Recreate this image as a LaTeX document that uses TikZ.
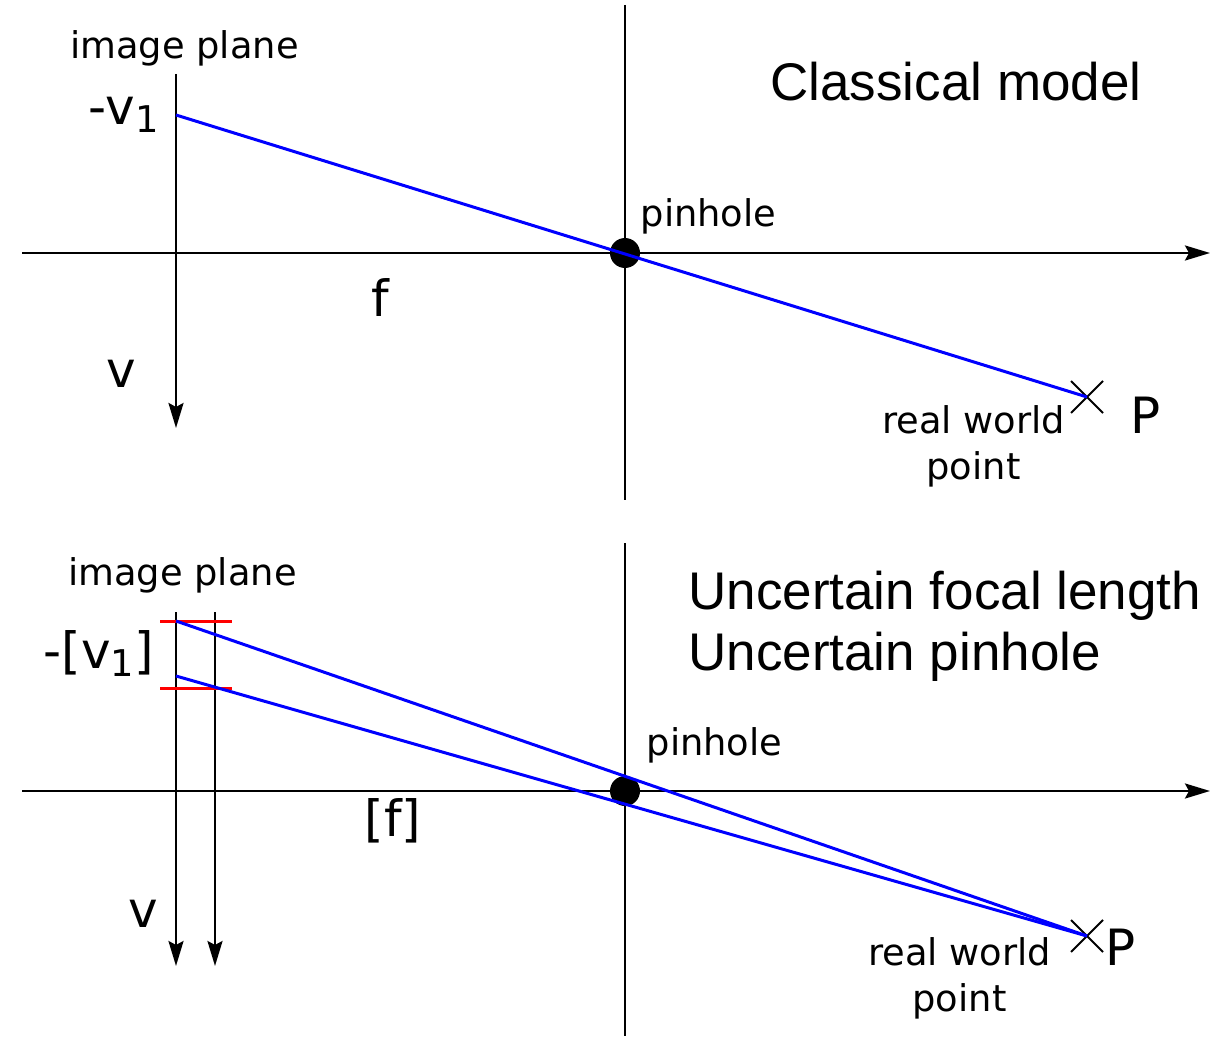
\documentclass[tikz,border=0pt]{standalone}
\usepackage{fontspec}
\setmainfont{DejaVu Sans}
\newfontfamily\titlefont{Liberation Sans}
\usetikzlibrary{arrows.meta,shapes.misc}
\definecolor{rayblue}{HTML}{0000FF}
\definecolor{boundred}{HTML}{FF0000}
\newcommand{\lbl}{\fontsize{18.4}{23}\selectfont}
\newcommand{\sym}{\fontsize{25}{28}\selectfont}
\newcommand{\ttl}{\titlefont\fontsize{26.5}{30.5}\selectfont}
\newcommand{\subone}{\lower4pt\hbox{\lbl 1}}
\tikzset{
 every node/.append style={text=black,inner sep=0pt},
 axis/.style={draw=black,line width=1.3pt},
 axisarrow/.style={axis,-{Stealth[length=12.5pt,width=7.5pt,inset=2pt]}},
 ray/.style={draw=rayblue,line width=1.5pt},
 bound/.style={draw=boundred,line width=1.5pt},
 pinhole/.style={circle,fill=black,minimum size=15pt,inner sep=0pt},
 world/.style={cross out,draw=black,line width=1pt,minimum size=15pt,inner sep=0pt},
 words/.style={font=\lbl,anchor=base,align=center},
 sym/.style={font=\sym,anchor=base},
 title/.style={font=\ttl,anchor=base west,align=left},
}
\begin{document}
\begin{tikzpicture}[x=0.5pt,y=-0.5pt]

\useasboundingbox (0,0) rectangle (1211,1038);
% classical model
\draw[axisarrow] (22,253) -- (1210,253);
\draw[axis] (625,5) -- (625,500);
\draw[axisarrow] (176,74) -- (176,428);
\coordinate (imgA) at (176,115);
\node[pinhole] (holeA) at (625,253) {};
\node[world] (worldA) at (1087,397) {};
\draw[ray] (imgA) -- (worldA.center);
\node[words] (planeA) at (184.5,59) {image plane};
\node[sym,anchor=base east] (vimgA) at (159,125) {-v\subone};
\node[words] (pinA) at (708.5,227) {pinhole};
\node[sym] (focA) at (380,316) {f};
\node[sym] (vA) at (121,387) {v};
\node[words] (realA) at (973.5,479) {real world\\point};
\node[sym] (PA) at (1146,433) {P};
\node[title] (titleA) at (770,101) {Classical model};

% uncertain model
\draw[axisarrow] (22,791) -- (1210,791);
\draw[axis] (625,543) -- (625,1036);
\draw[axisarrow] (176,612) -- (176,966);
\draw[axisarrow] (215,612) -- (215,966);
\draw[bound] (160,621) -- (232,621);
\draw[bound] (160,688) -- (232,688);
\coordinate (imgHi) at (176,621);
\coordinate (imgLo) at (176,676);
\node[pinhole] (holeB) at (625,791) {};
\node[world] (worldB) at (1087,936) {};
\draw[ray] (imgHi) -- (worldB.center);
\draw[ray] (imgLo) -- (worldB.center);
\node[words] (planeB) at (182.5,585) {image plane};
\node[sym,anchor=base east] (vimgB) at (154,668) {-[v\subone]};
\node[words] (pinB) at (714.5,755) {pinhole};
\node[sym] (focB) at (393,836) {[f]};
\node[sym] (vB) at (143,927) {v};
\node[words] (realB) at (959.5,1011) {real world\\point};
\node[sym] (PB) at (1121,965) {P};
\node[title] (titleB) at (688,670) {Uncertain focal length\\Uncertain pinhole};

\end{tikzpicture}
\end{document}
